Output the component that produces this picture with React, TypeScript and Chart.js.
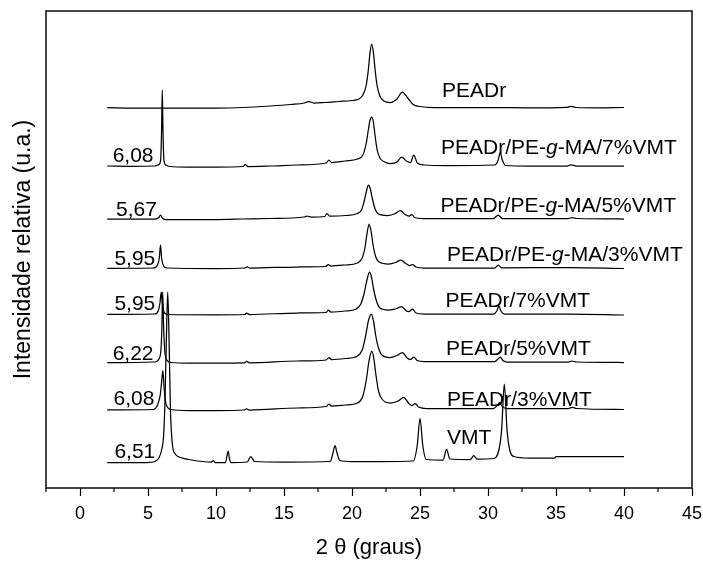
import { useEffect, useRef } from 'react';
import { Chart, registerables } from 'chart.js';

Chart.register(...registerables);

const FONT = '"Liberation Sans", Arial, Helvetica, sans-serif';
Chart.defaults.font.family = FONT;
Chart.defaults.color = '#000';

type Pt = [number, number];

// ---- Data (2θ in degrees, relative intensity in arbitrary units) ----
const seriesNames = [
  'PEADr',
  'PEADr/PE-g-MA/7%VMT',
  'PEADr/PE-g-MA/5%VMT',
  'PEADr/PE-g-MA/3%VMT',
  'PEADr/7%VMT',
  'PEADr/5%VMT',
  'PEADr/3%VMT',
  'VMT',
];

const peakLabels = ['', '6,08', '5,67', '5,95', '5,95', '6,22', '6,08', '6,51'];

const peadr: Pt[] = [[2,380.3],[4,380],[6,380],[8,380],[10,380],[12,380.5],[14,382],[15.5,383.5],[16.5,385],[16.8,386.5],[17.2,385],[18,385.5],[19,386.5],[20,387.5],[20.5,389],[20.8,393],[21.05,403],[21.2,418],[21.33,436],[21.45,444],[21.57,436],[21.7,418],[21.85,402],[22.05,392],[22.35,387],[22.8,385.5],[23.3,389],[23.7,396],[24.1,390],[24.5,383.5],[25,381.5],[26,380.5],[30,380.5],[33,380.2],[35.8,380.7],[36.1,381.7],[36.5,380.5],[38,380.2],[40,380.5]];

const gma7: Pt[] = [[2,322],[4,321.7],[5.5,322],[5.8,323.5],[5.93,328],[6.0,358],[6.05,398],[6.1,358],[6.17,328],[6.3,323],[6.6,321.5],[8,321],[10,321],[12,321.5],[12.15,323.5],[12.35,321.5],[14,322],[16,323],[18.1,325],[18.3,328],[18.5,325.5],[19.5,327],[20.4,329],[20.8,333],[21.05,345],[21.2,358],[21.33,368],[21.45,371],[21.57,366],[21.7,352],[21.85,338],[22.05,330],[22.4,326],[22.8,324.5],[23.3,326],[23.65,331],[24.0,327],[24.3,325.5],[24.55,333],[24.8,325],[25.3,323],[27,322.5],[30.5,323],[30.75,328],[30.9,335.5],[31.05,328],[31.3,322.5],[33,322],[35.8,322],[36.1,323.2],[36.5,322],[40,322]];

const gma5: Pt[] = [[2,269],[5.5,269],[5.8,270.5],[5.92,273],[6.05,270],[6.3,268.5],[10,268.5],[12,269],[14,269.5],[16.5,271],[16.7,272],[17.0,271],[18,271.5],[18.15,274.5],[18.35,272],[19.5,272.5],[20.4,274.5],[20.7,278],[20.9,287],[21.05,296],[21.2,303],[21.35,299],[21.5,289],[21.7,279],[21.95,274],[22.6,272.5],[23.2,274.5],[23.55,277.5],[23.9,273.5],[24.2,272],[24.4,273.5],[24.6,270.5],[25.2,269.5],[30.4,269.5],[30.75,273],[31.05,269.5],[35.9,269.5],[36.2,270.5],[36.5,269.5],[40,269]];

const gma3: Pt[] = [[2,219.7],[5.4,220],[5.7,223],[5.83,230],[5.92,243],[6.0,230],[6.15,222],[6.4,220],[10,219.5],[12.1,220],[12.3,221.2],[12.5,220],[16,221],[18.05,221.5],[18.25,223.5],[18.45,222],[19.5,223],[20.4,225],[20.75,230],[20.95,240],[21.1,254],[21.26,264],[21.4,257],[21.55,243],[21.75,231],[22.0,226],[22.7,224],[23.2,225.5],[23.6,228],[23.95,224.5],[24.25,222.5],[24.45,223.5],[24.7,221],[25.3,220],[30.5,220],[30.75,223],[31.0,220.2],[36,220.5],[40,219.5]];

const vmt7: Pt[] = [[2,173.5],[5.5,174],[5.75,177],[5.88,185],[5.97,196],[6.05,185],[6.18,176],[6.4,173.5],[10,173.2],[12.1,173.5],[12.25,175],[12.45,173.5],[16,175],[18.1,175.5],[18.25,178],[18.45,176],[19.5,177],[20.3,179],[20.65,184],[20.9,195],[21.1,208],[21.28,216],[21.43,211],[21.6,198],[21.8,187],[22.05,180],[22.7,178],[23.3,179.5],[23.65,181.5],[24.0,177],[24.2,176.5],[24.45,179],[24.7,175],[25.3,174],[30.4,174],[30.65,177],[30.8,182],[30.95,177],[31.2,174],[36,174],[40,173]];

const vmt5: Pt[] = [[2,125.3],[5.5,126],[5.8,129],[5.95,138],[6.02,160],[6.08,196],[6.15,160],[6.25,135],[6.45,127],[6.7,125.5],[8,125],[10,125],[12.1,125.2],[12.25,126.7],[12.45,125.2],[16,127],[18.1,128],[18.3,130.5],[18.5,128.5],[19.5,129.5],[20.4,132],[20.75,138],[21.0,152],[21.22,168],[21.42,174],[21.58,167],[21.75,152],[21.95,140],[22.2,133],[22.8,130.5],[23.3,132.5],[23.7,135.5],[24.05,130],[24.3,128.5],[24.55,131],[24.8,127.5],[25.3,126.5],[30.5,126.5],[30.7,128.5],[30.9,131],[31.1,127.5],[31.4,126],[35.9,126],[36.15,127],[36.5,126],[40,125.5]];

const vmt3: Pt[] = [[2,78],[5.4,78.5],[5.7,83],[5.9,93],[6.0,106],[6.09,117.5],[6.17,103],[6.27,88],[6.42,81],[6.7,78.5],[8,77.5],[10,77.5],[12.1,78],[12.25,79.2],[12.45,78],[16,80],[18.1,81.5],[18.3,84],[18.5,82],[19.5,83],[20.4,85],[20.8,92],[21.05,108],[21.25,127],[21.45,137],[21.6,130],[21.75,114],[21.95,97],[22.2,89],[22.8,85],[23.4,87],[23.8,90.7],[24.15,85],[24.4,82.5],[24.65,84.5],[24.9,81],[25.5,79.5],[30.4,79.5],[30.65,82],[30.85,85.3],[31.05,81.5],[31.4,79.5],[35.9,79.5],[36.2,80.7],[36.5,79.5],[40,78.5]];

const vmt: Pt[] = [[2,25.3],[5.0,25.5],[5.5,26.5],[5.8,30],[6.0,38],[6.15,53],[6.25,88],[6.35,148],[6.45,196],[6.55,148],[6.65,78],[6.8,43],[7.0,34],[7.4,30.5],[8.0,28.5],[9.0,26.5],[9.65,26],[9.8,27.5],[9.95,25.5],[10.7,25.5],[10.82,33],[10.9,37],[10.98,30],[11.1,25.5],[12.3,26],[12.55,31.3],[12.85,26.5],[15,26],[18.4,26.5],[18.6,35],[18.75,42.3],[18.9,35],[19.1,27.5],[20,26.5],[22,26.5],[24.5,27],[24.8,43],[25.0,69.7],[25.2,43],[25.45,28.5],[26.7,28],[26.95,38.7],[27.2,29],[28.7,28.5],[28.95,32.3],[29.2,29],[30.4,29.5],[30.8,38],[31.0,58],[31.2,104],[31.4,58],[31.6,38],[31.9,31.5],[33,30],[34.9,30],[35,31.3],[40,31.3]];

const series: Pt[][] = [peadr, gma7, gma5, gma3, vmt7, vmt5, vmt3, vmt];

// ---- Annotation anchors (left x in 2θ, vertical centre in intensity units) ----
const nameAnchorX = [26.62, 26.55, 26.5, 26.99, 26.87, 26.92, 26.99, 26.99];
const nameAnchorY = [399, 342, 283.5, 235, 189, 141, 90, 52];
const peakAnchorX = [0, 2.4, 2.65, 2.53, 2.53, 2.4, 2.47, 2.53];
const peakAnchorY = [0, 334, 280, 231, 185.5, 135.5, 90.5, 38];

const LABEL_SIZE = 21;

function drawRich(ctx: CanvasRenderingContext2D, text: string, x: number, yc: number, size: number) {
  const base = yc + 0.358 * size;
  const normal = `${size}px ${FONT}`;
  const italic = `italic ${size}px ${FONT}`;
  const parts = text.split('-g-');
  const segs: [string, string][] = [];
  if (parts.length === 2) {
    segs.push([parts[0] + '-', normal], ['g', italic], ['-' + parts[1], normal]);
  } else {
    segs.push([text, normal]);
  }
  let cx = x;
  ctx.textAlign = 'left';
  ctx.textBaseline = 'alphabetic';
  for (const [t, f] of segs) {
    ctx.font = f;
    ctx.fillText(t, cx, base);
    cx += ctx.measureText(t).width;
  }
}

const decoPlugin = {
  id: 'deco',
  afterDraw(chart: any) {
    const { ctx, chartArea, scales } = chart;
    const xs = scales.x;
    const ys = scales.y;
    ctx.save();
    ctx.strokeStyle = '#1a1a1a';
    ctx.lineWidth = 1.6;
    ctx.strokeRect(chartArea.left, chartArea.top, chartArea.right - chartArea.left, chartArea.bottom - chartArea.top);
    // minor ticks
    ctx.strokeStyle = '#000';
    ctx.lineWidth = 1.2;
    for (let v = -2.5; v < 45; v += 5) {
      const px = xs.getPixelForValue(v);
      ctx.beginPath();
      ctx.moveTo(px, chartArea.bottom);
      ctx.lineTo(px, chartArea.bottom + 4);
      ctx.stroke();
    }
    ctx.fillStyle = '#000';
    for (let i = 0; i < seriesNames.length; i++) {
      drawRich(ctx, seriesNames[i], xs.getPixelForValue(nameAnchorX[i]), ys.getPixelForValue(nameAnchorY[i]), LABEL_SIZE);
      if (peakLabels[i]) {
        drawRich(ctx, peakLabels[i], xs.getPixelForValue(peakAnchorX[i]), ys.getPixelForValue(peakAnchorY[i]), LABEL_SIZE);
      }
    }
    ctx.restore();
  },
};

export default function App() {
  const ref = useRef<HTMLCanvasElement>(null);
  useEffect(() => {
    const canvas = ref.current;
    if (!canvas) return;
    const chart = new Chart(canvas, {
      type: 'line',
      data: {
        datasets: series.map((s, i) => ({
          label: seriesNames[i],
          data: s.map(([x, y]) => ({ x, y })),
          borderColor: '#000',
          borderWidth: 1.25,
          pointRadius: 0,
          fill: false,
          cubicInterpolationMode: 'monotone' as const,
        })),
      },
      options: {
        animation: false,
        responsive: false,
        maintainAspectRatio: false,
        layout: { padding: { top: 11, right: 11, left: 0, bottom: 0 } },
        plugins: { legend: { display: false }, tooltip: { enabled: false } },
        scales: {
          x: {
            type: 'linear',
            min: -2.5,
            max: 45,
            afterFit: (s: any) => {
              s.height = 73;
              s.paddingLeft = 0;
              s.paddingRight = 0;
            },
            border: { display: false },
            grid: {
              display: true,
              drawOnChartArea: false,
              drawTicks: true,
              tickLength: 8,
              tickWidth: 1.2,
              tickColor: (c: any) =>
                c.tick && Math.abs(c.tick.value % 5) < 1e-6 ? '#000' : 'rgba(0,0,0,0)',
            },
            ticks: {
              stepSize: 2.5,
              autoSkip: false,
              maxRotation: 0,
              minRotation: 0,
              padding: 7,
              color: '#000',
              font: { size: 18 },
              callback: (v: any) => (Math.abs(Number(v) % 5) < 1e-6 ? String(Number(v)) : ''),
            },
            title: {
              display: true,
              text: '2 θ (graus)',
              color: '#000',
              font: { size: 22 },
              padding: { top: 0, bottom: 0 },
            },
          },
          y: {
            type: 'linear',
            min: 0,
            max: 477,
            afterFit: (s: any) => {
              s.width = 46;
              s.paddingTop = 0;
              s.paddingBottom = 0;
            },
            border: { display: false },
            grid: { display: false },
            ticks: { display: false },
            title: {
              display: true,
              text: 'Intensidade relativa (u.a.)',
              color: '#000',
              font: { size: 23 },
              padding: { top: 10, bottom: 0 },
            },
          },
        },
      },
      plugins: [decoPlugin],
    });
    return () => chart.destroy();
  }, []);
  return (
    <div style={{ position: 'absolute', left: 0, top: 0, width: 703, height: 561, background: '#fff' }}>
      <canvas ref={ref} width={703} height={561} style={{ width: 703, height: 561, display: 'block' }} />
    </div>
  );
}
